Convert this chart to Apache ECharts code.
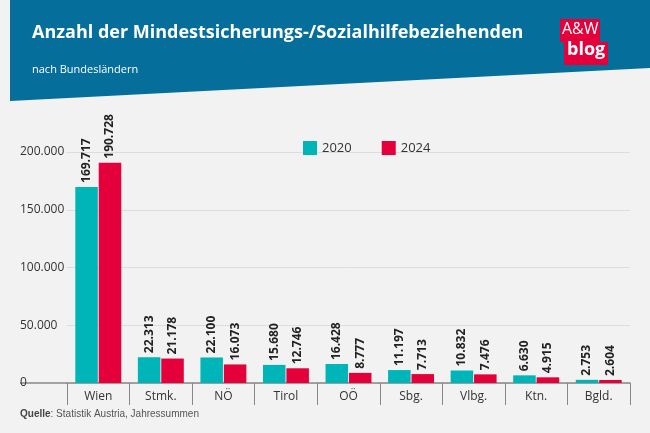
<!DOCTYPE html>
<html><head><meta charset="utf-8">
<script src="https://cdn.jsdelivr.net/npm/echarts@6/dist/echarts.min.js"></script>
<style>html,body{margin:0;padding:0;background:#f2f2f2}#c{width:650px;height:433px}</style>
</head><body><div id="c"></div>
<script>
var categories = ['Wien','Stmk.','NÖ','Tirol','OÖ','Sbg.','Vlbg.','Ktn.','Bgld.'];
var values2020 = [169717,22313,22100,15680,16428,11197,10832,6630,2753];
var values2024 = [190728,21178,16073,12746,8777,7713,7476,4915,2604];
var fmt = function(v){ return String(v).replace(/\B(?=(\d{3})+(?!\d))/g,'.'); };
var font = '"Open Sans", "Noto Sans", sans-serif';
var chart = echarts.init(document.getElementById('c'));
var lbl = {show:true, position:'top', rotate:90, align:'left', verticalAlign:'middle', distance:4,
    fontFamily:font, fontWeight:'bold', fontSize:12, color:'#222',
    formatter:function(p){ return fmt(p.value); }};
chart.setOption({
    backgroundColor:'#f2f2f2',
    textStyle:{fontFamily:font},
    graphic:[
        {type:'polygon', shape:{points:[[10,0],[650,0],[650,68],[10,101]]},
         style:{fill:'#066e9b'}},
        {type:'text', left:32, top:24, style:{text:'Anzahl der Mindestsicherungs-/Sozialhilfebeziehenden',
         fill:'#fff', font:'bold 18px "Open Sans", sans-serif'}},
        {type:'text', left:32, top:64, style:{text:'nach Bundesländern', fill:'#fff', font:'11px "Open Sans", sans-serif'}},
        {type:'rect', shape:{x:560,y:19,width:40,height:23}, style:{fill:'#e4003a'}},
        {type:'rect', shape:{x:564,y:42,width:44,height:23}, style:{fill:'#e4003a'}},
        {type:'text', left:562, top:21, style:{text:'A&W', fill:'#fff', font:'16px "Open Sans", sans-serif'}},
        {type:'text', left:567, top:41, style:{text:'blog', fill:'#fff', font:'bold 18px "Open Sans", sans-serif'}},
        {type:'line', shape:{x1:20,y1:383,x2:67,y2:383}, style:{stroke:'#888',lineWidth:1.5}},
        {type:'text', left:20, top:409, style:{rich:{b:{fontWeight:'bold',fontSize:10,fill:'#444'},n:{fontSize:10,fill:'#555'}},
         text:'{b|Quelle}{n|: Statistik Austria, Jahressummen}'}}
    ],
    legend:{top:136, left:298, itemWidth:14, itemHeight:14, itemGap:30, icon:'rect',
        textStyle:{fontSize:13, color:'#333', fontFamily:font}},
    grid:{left:67, right:20, top:152, bottom:50},
    xAxis:{type:'category', data:categories,
        axisLine:{lineStyle:{color:'#888',width:1.5}},
        axisTick:{show:true, length:22, lineStyle:{color:'#888'}},
        axisLabel:{color:'#333', fontSize:12, margin:8}},
    yAxis:{type:'value', min:0, max:200000, interval:50000,
        axisLabel:{color:'#333', fontSize:12, align:'left', margin:47, formatter:fmt},
        splitLine:{lineStyle:{color:'#ddd'}}},
    series:[
        {name:'2020', type:'bar', data:values2020, itemStyle:{color:'#00b5b8'}, barWidth:'36%', barGap:'4%', label:lbl},
        {name:'2024', type:'bar', data:values2024, itemStyle:{color:'#e4003a'}, barWidth:'36%', label:lbl}
    ]
});
</script></body></html>
